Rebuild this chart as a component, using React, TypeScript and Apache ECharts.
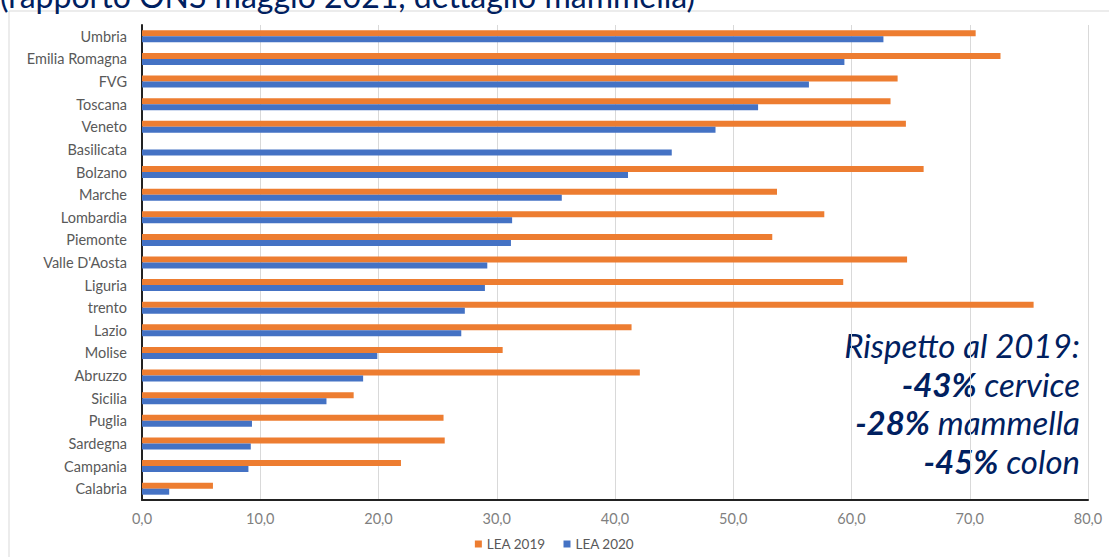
import React, { useEffect, useRef } from "react";
import * as echarts from "echarts";

const regions = [
  "Umbria", "Emilia Romagna", "FVG", "Toscana", "Veneto", "Basilicata", "Bolzano",
  "Marche", "Lombardia", "Piemonte", "Valle D'Aosta", "Liguria", "trento", "Lazio",
  "Molise", "Abruzzo", "Sicilia", "Puglia", "Sardegna", "Campania", "Calabria",
];
const lea2019 = [
  70.5, 72.6, 63.9, 63.3, 64.6, 0, 66.1, 53.7, 57.7, 53.3, 64.7, 59.3, 75.4, 41.4,
  30.5, 42.1, 17.9, 25.5, 25.6, 21.9, 6.0,
];
const lea2020 = [
  62.7, 59.4, 56.4, 52.1, 48.5, 44.8, 41.1, 35.5, 31.3, 31.2, 29.2, 29.0, 27.3, 27.0,
  19.9, 18.7, 15.6, 9.3, 9.2, 9.0, 2.3,
];
const seriesNames = ["LEA 2019", "LEA 2020"];
const titleText = "(rapporto ONS maggio 2021, dettaglio mammella)";

const FONT = "Lato, 'Open Sans', sans-serif";

export default function App() {
  const ref = useRef<HTMLDivElement>(null);
  useEffect(() => {
    if (!ref.current) return;
    const chart = echarts.init(ref.current, null, { renderer: "svg" });
    const noteStyle = {
      fontFamily: FONT,
      fontSize: 33,
      fontStyle: "italic",
      color: "#002060",
      lineHeight: 38.5,
    };
    chart.setOption({
      animation: false,
      backgroundColor: "#ffffff",
      textStyle: { fontFamily: FONT },
      grid: { left: 142, right: 21, top: 25, bottom: 57, containLabel: false },
      legend: {
        data: seriesNames,
        bottom: 1,
        left: "center",
        itemWidth: 7,
        itemHeight: 7,
        itemGap: 18,
        icon: "rect",
        textStyle: { color: "#595959", fontSize: 13.5, fontFamily: FONT },
      },
      xAxis: {
        type: "value",
        min: 0,
        max: 80,
        interval: 10,
        axisLine: { show: true, lineStyle: { color: "#222222", width: 2 } },
        axisTick: { show: false },
        splitLine: { show: true, lineStyle: { color: "#d9d9d9", width: 1 } },
        axisLabel: {
          color: "#7f7f7f",
          fontSize: 14.5,
          margin: 11,
          formatter: (v: number) => v.toFixed(1).replace(".", ","),
        },
      },
      yAxis: {
        type: "category",
        data: regions,
        inverse: true,
        axisLine: { show: true, lineStyle: { color: "#222222", width: 2 } },
        axisTick: { show: false },
        axisLabel: { color: "#595959", fontSize: 14.5, margin: 15 },
      },
      series: [
        {
          name: seriesNames[0],
          type: "bar",
          data: lea2019,
          barWidth: 6,
          barGap: "0%",
          itemStyle: { color: "#ED7D31" },
        },
        {
          name: seriesNames[1],
          type: "bar",
          data: lea2020,
          barWidth: 6,
          barGap: "0%",
          itemStyle: { color: "#4472C4" },
        },
      ],
      graphic: [
        {
          type: "rect",
          silent: true,
          z: -1,
          shape: { x: 9, y: 11, width: 1200, height: 600 },
          style: { fill: "none", stroke: "#d9d9d9", lineWidth: 1 },
        },
        {
          type: "text",
          x: 0,
          y: 11,
          style: {
            text: titleText,
            font: `32px ${FONT}`,
            fill: "#002060",
            textAlign: "left",
            textVerticalAlign: "bottom",
          },
        },
        {
          type: "text",
          x: 1080,
          y: 326,
          style: {
            text:
              "{n|Rispetto al 2019:}\n{b|-43%}{n| cervice}\n{b|-28%}{n| mammella}\n{b|-45%}{n| colon}",
            textAlign: "right",
            textVerticalAlign: "top",
            fill: "#002060",
            lineHeight: 38.5,
            rich: {
              n: noteStyle,
              b: { ...noteStyle, fontWeight: "bold" },
            },
          },
        },
      ],
    });
    return () => chart.dispose();
  }, []);
  return (
    <div
      ref={ref}
      style={{ width: 1109, height: 557, position: "absolute", left: 0, top: 0 }}
    />
  );
}
